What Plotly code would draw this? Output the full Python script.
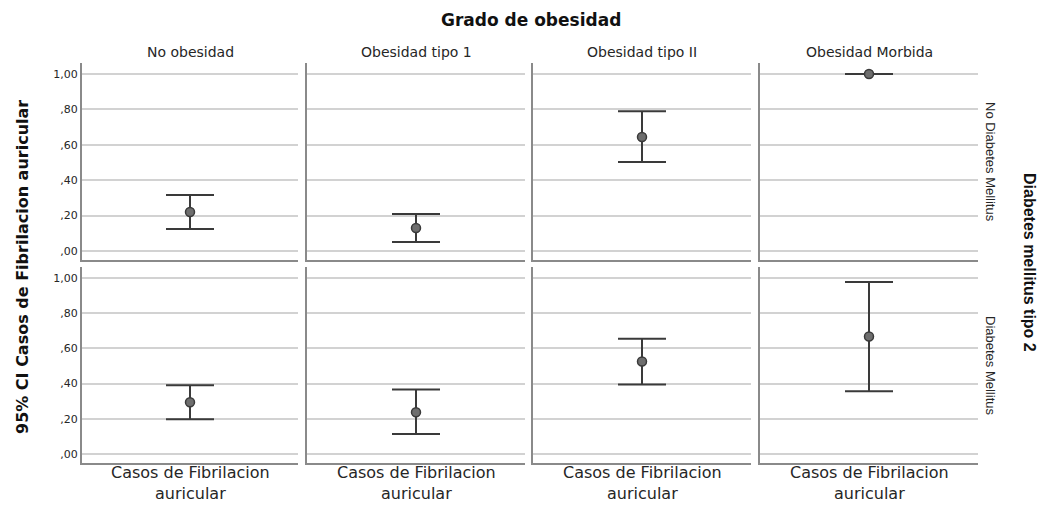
import plotly.graph_objects as go

# ---------------- data ----------------
OBESITY_GROUPS = ["No obesidad", "Obesidad tipo 1", "Obesidad tipo II", "Obesidad Morbida"]
DIABETES_GROUPS = ["No Diabetes Mellitus", "Diabetes Mellitus"]
CATEGORY = "Casos de Fibrilacion auricular"
CATEGORY_LINES = ["Casos de Fibrilacion", "auricular"]

# mean and 95% CI, per diabetes row, per obesity column
MEAN_NO_DM = [0.220, 0.130, 0.644, 1.000]
LOW_NO_DM = [0.124, 0.050, 0.503, 1.000]
HIGH_NO_DM = [0.316, 0.209, 0.790, 1.000]

MEAN_DM = [0.294, 0.237, 0.525, 0.667]
LOW_DM = [0.198, 0.113, 0.395, 0.356]
HIGH_DM = [0.390, 0.367, 0.655, 0.977]

TICK_VALS = [0.0, 0.2, 0.4, 0.6, 0.8, 1.0]
TICK_LABELS = [",00", ",20", ",40", ",60", ",80", "1,00"]

TITLE_TOP = "Grado de obesidad"
TITLE_LEFT = "95% CI Casos de Fibrilacion auricular"
TITLE_RIGHT = "Diabetes mellitus tipo 2"

# ---------------- layout constants ----------------
W, H = 1043, 505
COL_L = [82, 307, 533, 760]
COL_R = [298, 525, 751, 978]
ROW_T = [63, 267]
ROW_B = [260, 463]
YRANGE = [-0.051, 1.062]

FONT = "DejaVu Sans"
TEXT = "#262626"
BAR = "#3a3a3a"

def px_x(x):
    return x / W

def px_y(y):
    return 1 - y / H

fig = go.Figure()
rows = [(MEAN_NO_DM, LOW_NO_DM, HIGH_NO_DM), (MEAN_DM, LOW_DM, HIGH_DM)]
layout = {}
annotations = []

for r, (means, lows, highs) in enumerate(rows):
    for c in range(4):
        idx = r * 4 + c + 1
        xa = "x" if idx == 1 else f"x{idx}"
        ya = "y" if idx == 1 else f"y{idx}"
        m = means[c]
        fig.add_trace(go.Scatter(
            x=[CATEGORY], y=[m], xaxis=xa, yaxis=ya, mode="markers",
            marker=dict(size=9, color="#6e6e6e", line=dict(color=BAR, width=1.5)),
            error_y=dict(type="data", symmetric=False,
                         array=[highs[c] - m], arrayminus=[m - lows[c]],
                         color=BAR, thickness=2, width=24),
            showlegend=False, hoverinfo="y"))
        xk = "xaxis" if idx == 1 else f"xaxis{idx}"
        yk = "yaxis" if idx == 1 else f"yaxis{idx}"
        layout[xk] = dict(
            domain=[px_x(COL_L[c]), px_x(COL_R[c])], anchor=ya,
            type="category", range=[-0.5, 0.5], showgrid=False,
            showline=True, linecolor="#8a8a8a", linewidth=2,
            showticklabels=False, ticks="", zeroline=False, fixedrange=True)
        layout[yk] = dict(
            domain=[px_y(ROW_B[r]), px_y(ROW_T[r])], anchor=xa,
            range=YRANGE, tickvals=TICK_VALS, ticktext=TICK_LABELS,
            showticklabels=(c == 0), ticks="",
            tickfont=dict(family=FONT, size=11, color=TEXT),
            showgrid=True, gridcolor="#d2d2d2", gridwidth=1.5,
            showline=True, linecolor="#8a8a8a", linewidth=2,
            zeroline=False, fixedrange=True)
        if r == 1:
            annotations.append(dict(
                x=CATEGORY, xref=xa, y=px_y(504), yref="paper",
                text="<br>".join(CATEGORY_LINES), showarrow=False,
                xanchor="center", yanchor="bottom", borderpad=0,
                font=dict(family=FONT, size=16, color=TEXT)))

# column titles
for c, name in enumerate(OBESITY_GROUPS):
    annotations.append(dict(
        x=px_x((COL_L[c] + COL_R[c]) / 2), y=px_y(52), xref="paper", yref="paper",
        text=name, showarrow=False, xanchor="center", yanchor="middle",
        font=dict(family=FONT, size=14, color=TEXT)))

# row labels
for r, name in enumerate(DIABETES_GROUPS):
    yc = [162, 365][r]
    annotations.append(dict(
        x=px_x(991), y=px_y(yc), xref="paper", yref="paper", text=name,
        textangle=90, showarrow=False, xanchor="center", yanchor="middle",
        font=dict(family="Liberation Sans", size=13, color=TEXT)))

annotations += [
    dict(x=px_x(531), y=px_y(20), xref="paper", yref="paper", text=f"<b>{TITLE_TOP}</b>",
         showarrow=False, xanchor="center", yanchor="middle",
         font=dict(family=FONT, size=17, color="#111")),
    dict(x=px_x(22), y=px_y(267), xref="paper", yref="paper", text=f"<b>{TITLE_LEFT}</b>",
         textangle=-90, showarrow=False, xanchor="center", yanchor="middle",
         font=dict(family=FONT, size=16, color="#111")),
    dict(x=px_x(1030), y=px_y(262), xref="paper", yref="paper", text=f"<b>{TITLE_RIGHT}</b>",
         textangle=90, showarrow=False, xanchor="center", yanchor="middle",
         font=dict(family="Liberation Sans", size=16, color="#111")),
]

fig.update_layout(
    width=W, height=H, margin=dict(l=0, r=0, t=0, b=0),
    paper_bgcolor="white", plot_bgcolor="white",
    annotations=annotations, **layout)

fig.write_html("out.html", config={"displayModeBar": False},
               post_script="document.body.style.margin='0';document.body.style.overflow='hidden';")
